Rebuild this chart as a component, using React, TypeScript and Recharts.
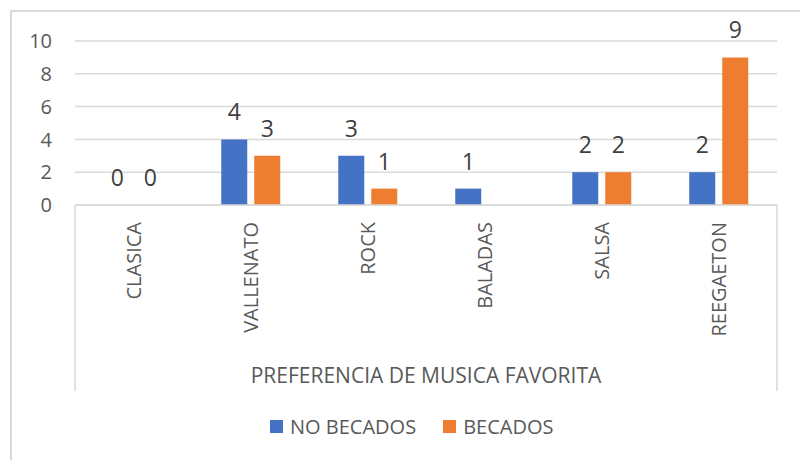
import { BarChart, Bar, XAxis, YAxis, CartesianGrid, Legend, LabelList, Customized } from "recharts"

const categories = ["CLASICA", "VALLENATO", "ROCK", "BALADAS", "SALSA", "REEGAETON"]
const noBecados = [0, 4, 3, 1, 2, 2]
const becados: (number | null)[] = [0, 3, 1, null, 2, 9]
const yTicks = [0, 2, 4, 6, 8, 10]
const seriesNames = ["NO BECADOS", "BECADOS"]
const axisTitle = "PREFERENCIA DE MUSICA FAVORITA"

const data = categories.map((name, i) => ({
  name,
  noBecados: noBecados[i],
  becados: becados[i],
}))

const FONT = "'Open Sans', sans-serif"
const TEXT = "#595959"
const GRID = "#d9d9d9"
const BLUE = "#4472C4"
const ORANGE = "#ED7D31"

// plot box in chart pixels
const PLOT_LEFT = 75
const PLOT_RIGHT = 777
const PLOT_BOTTOM = 205
const FRAME_BOTTOM = 391

// zero values still need a (flat) bar so that the "0" label is drawn
const zeroSize = (v: any) => (v === 0 ? 0.01 : 0)

function CategoryTick(props: any) {
  const { x, payload } = props
  return (
    <text
      x={x}
      y={222}
      transform={`rotate(-90, ${x}, 222)`}
      textAnchor="end"
      dy="0.35em"
      fontSize={20}
      fontFamily={FONT}
      fill={TEXT}
    >
      {payload.value}
    </text>
  )
}

function AxisFrame() {
  return (
    <g stroke={GRID} strokeWidth={1.5}>
      <line x1={PLOT_LEFT} y1={PLOT_BOTTOM} x2={PLOT_LEFT} y2={FRAME_BOTTOM} />
      <line x1={PLOT_RIGHT} y1={PLOT_BOTTOM} x2={PLOT_RIGHT} y2={FRAME_BOTTOM} />
    </g>
  )
}

function LegendContent(props: any) {
  const items = [...(props.payload || [])].sort(
    (a: any, b: any) => seriesNames.indexOf(a.value) - seriesNames.indexOf(b.value)
  )
  return (
    <div style={{ display: "flex", alignItems: "center", fontFamily: FONT, fontSize: 20, color: TEXT }}>
      {items.map((p: any, i: number) => (
        <div key={p.value} style={{ display: "flex", alignItems: "center", marginRight: i === 0 ? 27 : 0 }}>
          <span style={{ width: 13, height: 13, background: p.color, display: "inline-block", marginRight: 7 }} />
          <span>{p.value}</span>
        </div>
      ))}
    </div>
  )
}

export default function App() {
  return (
    <div style={{ position: "absolute", left: 0, top: 0, width: 800, height: 460, background: "#fff" }}>
      <div
        style={{
          position: "absolute",
          left: 10,
          top: 10,
          width: 800,
          height: 460,
          borderLeft: `2px solid ${GRID}`,
          borderTop: `2px solid ${GRID}`,
        }}
      />
      <BarChart
        width={800}
        height={460}
        data={data}
        margin={{ top: 41, right: 23, bottom: 0, left: 0 }}
        barCategoryGap="25%"
        barGap={7}
        style={{ position: "absolute", left: 0, top: 0 }}
      >
        <CartesianGrid vertical={false} stroke={GRID} strokeWidth={1.5} />
        <XAxis
          dataKey="name"
          height={255}
          axisLine={{ stroke: GRID, strokeWidth: 1.5 }}
          tickLine={false}
          interval={0}
          tick={<CategoryTick />}
          label={{
            value: axisTitle,
            position: "insideBottom",
            offset: 77,
            fontSize: 21,
            fontFamily: FONT,
            fill: TEXT,
          }}
        />
        <YAxis
          width={75}
          domain={[0, 10]}
          ticks={yTicks}
          axisLine={false}
          tickLine={false}
          tickSize={0}
          tickMargin={23}
          tick={{ fontSize: 20, fontFamily: FONT, fill: TEXT }}
        />
        <Customized component={AxisFrame} />
        <Bar dataKey="noBecados" name={seriesNames[0]} fill={BLUE} minPointSize={zeroSize} isAnimationActive={false}>
          <LabelList dataKey="noBecados" position="top" offset={19} fontSize={23} fontFamily={FONT} fill="#404040" />
        </Bar>
        <Bar dataKey="becados" name={seriesNames[1]} fill={ORANGE} minPointSize={zeroSize} isAnimationActive={false}>
          <LabelList dataKey="becados" position="top" offset={19} fontSize={23} fontFamily={FONT} fill="#404040" />
        </Bar>
        <Legend
          verticalAlign="middle"
          content={<LegendContent />}
          wrapperStyle={{ top: 413, left: 270, width: 400 }}
        />
      </BarChart>
    </div>
  )
}
